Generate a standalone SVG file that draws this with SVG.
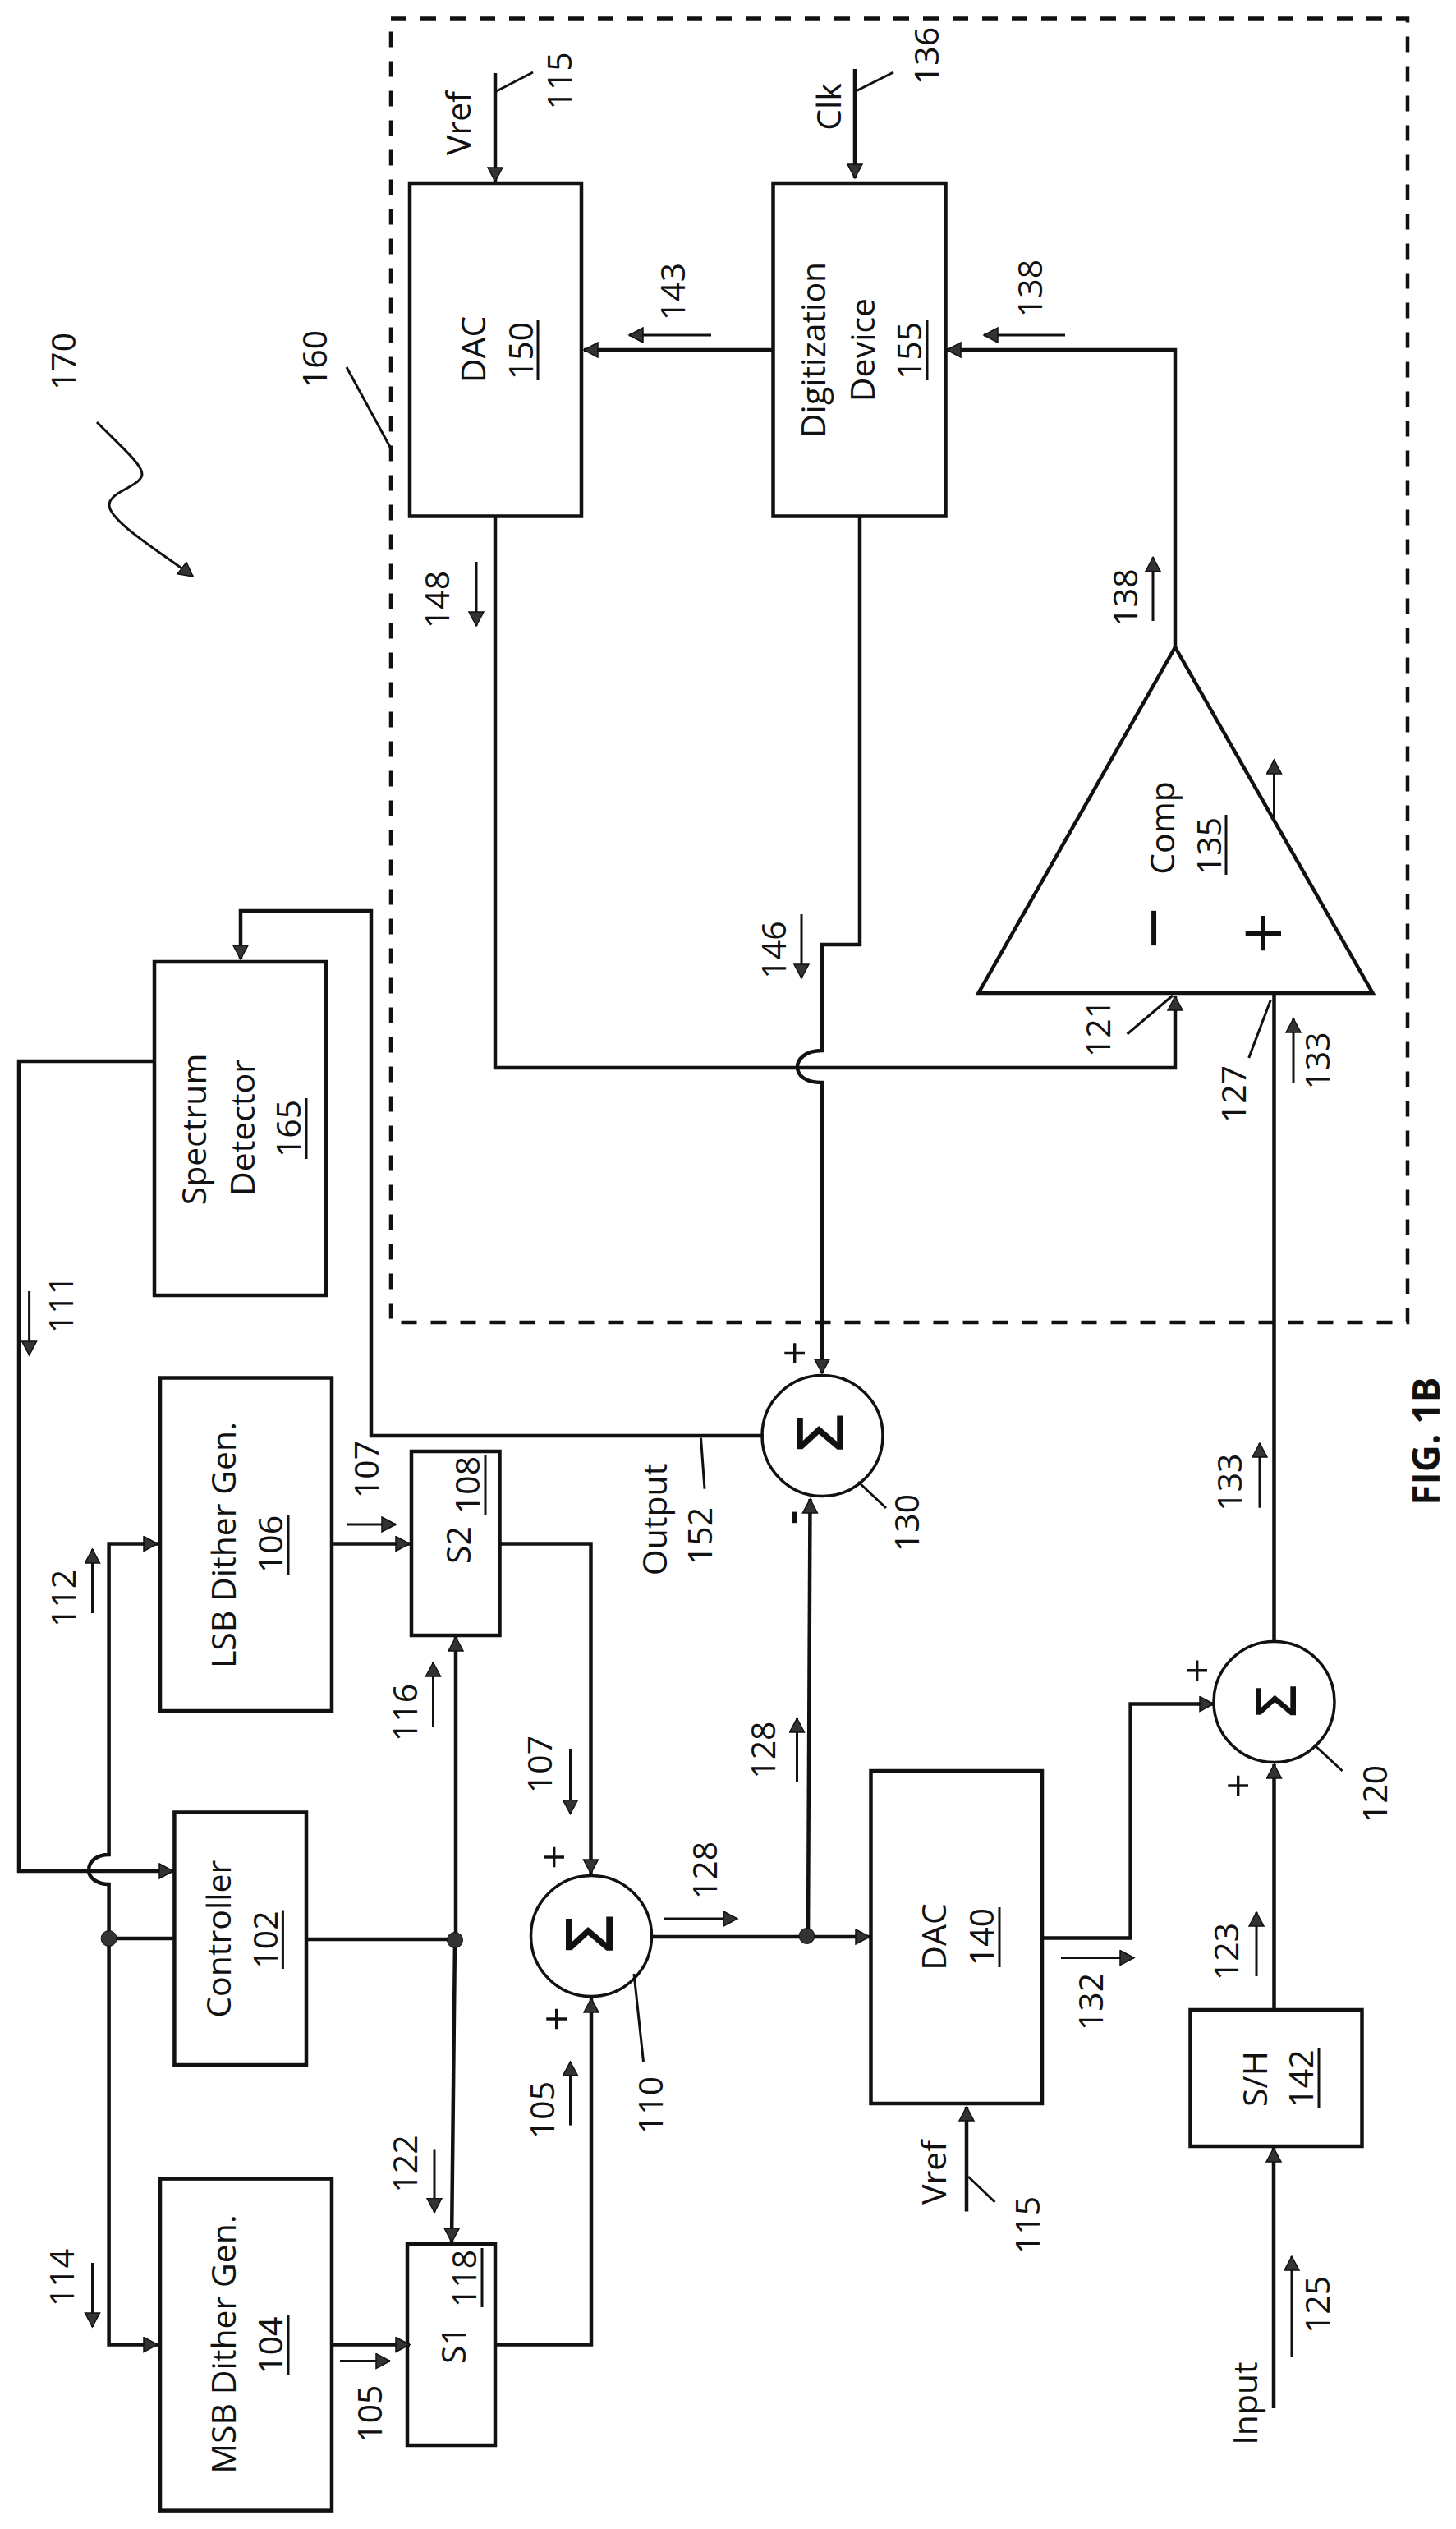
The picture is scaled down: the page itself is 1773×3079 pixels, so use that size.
<svg xmlns="http://www.w3.org/2000/svg" width="1773" height="3079" viewBox="0 0 1773 3079">
<style>
text{font-family:"Open Sans","Liberation Sans",sans-serif;font-size:41px;fill:#111;text-anchor:middle}
.fig{font-weight:700;font-size:46px}
.sym{font-size:52px}
.sig{font-size:80px;font-weight:600}
.box{fill:#fff;stroke:#111;stroke-width:4.5}
.sum{fill:#fff;stroke:#111;stroke-width:3.5}
.c{fill:none;stroke:#111;stroke-width:4.5;marker-end:url(#a)}
.n{fill:none;stroke:#111;stroke-width:4.5}
.s{fill:none;stroke:#111;stroke-width:3;marker-end:url(#a)}
.l{fill:none;stroke:#111;stroke-width:3}
.u{stroke:#111;stroke-width:3}
.d{fill:#333;stroke:#111;stroke-width:1}
.dash{fill:none;stroke:#111;stroke-width:4.5;stroke-dasharray:19 17}
</style>
<defs>
<marker id="a" markerUnits="userSpaceOnUse" markerWidth="20" markerHeight="22" refX="18" refY="10" orient="auto">
<path d="M1,1 L18,10 L1,19 Z" fill="#333" stroke="#111" stroke-width="1.5"/>
</marker>
</defs>
<rect id="boundary-160" class="dash" x="476" y="22.5" width="1238" height="1587.5"/>
<g id="node-dac150"><rect class="box" x="499" y="223" width="209" height="405.500"/><text transform="translate(591 425.500) rotate(-90)">DAC</text><text transform="translate(649 427) rotate(-90)">150</text><line class="u" x1="655" y1="390" x2="655" y2="463"/></g>
<g id="node-digit155"><rect class="box" x="941.500" y="223" width="210" height="405.500"/><text transform="translate(1005 426) rotate(-90)">Digitization</text><text transform="translate(1065 426) rotate(-90)">Device</text><text transform="translate(1122 427) rotate(-90)">155</text><line class="u" x1="1129" y1="390" x2="1129" y2="463"/></g>
<g id="node-comp135"><path class="box" d="M1191.500,1209 L1671.500,1209 L1431,788 Z"/><text transform="translate(1430 1008) rotate(-90)">Comp</text><text transform="translate(1486.500 1030) rotate(-90)">135</text><line class="u" x1="1493" y1="992" x2="1493" y2="1065"/><text class="sym" transform="translate(1437 1130) rotate(-90)" style="font-size:90px">−</text><text class="sym" transform="translate(1570 1136) rotate(-90)" style="font-size:90px">+</text></g>
<g id="node-spectrum165"><rect class="box" x="188" y="1171" width="209" height="406"/><text transform="translate(251 1375) rotate(-90)">Spectrum</text><text transform="translate(310 1373) rotate(-90)">Detector</text><text transform="translate(366 1374) rotate(-90)">165</text><line class="u" x1="373" y1="1337" x2="373" y2="1411"/></g>
<g id="node-lsb106"><rect class="box" x="195" y="1677.500" width="209" height="405.500"/><text transform="translate(287 1881) rotate(-90)">LSB Dither Gen.</text><text transform="translate(344.400 1880) rotate(-90)">106</text><line class="u" x1="351" y1="1844" x2="351" y2="1917"/></g>
<g id="node-s2108"><rect class="box" x="501" y="1767" width="107.500" height="224"/><text transform="translate(573 1881) rotate(-90)">S2</text><text transform="translate(584 1808) rotate(-90)">108</text><line class="u" x1="591" y1="1772" x2="591" y2="1845"/></g>
<g id="node-ctrl102"><rect class="box" x="212.400" y="2206.500" width="160.600" height="307.500"/><text transform="translate(281 2360.700) rotate(-90)">Controller</text><text transform="translate(337.500 2361.500) rotate(-90)">102</text><line class="u" x1="344.400" y1="2325.500" x2="344.400" y2="2397"/></g>
<g id="node-msb104"><rect class="box" x="195" y="2652.600" width="209" height="404"/><text transform="translate(287 2854) rotate(-90)">MSB Dither Gen.</text><text transform="translate(344.400 2855.600) rotate(-90)">104</text><line class="u" x1="351" y1="2818" x2="351" y2="2891"/></g>
<g id="node-s1118"><rect class="box" x="496" y="2732" width="107" height="245"/><text transform="translate(567 2855) rotate(-90)">S1</text><text transform="translate(580 2774) rotate(-90)">118</text><line class="u" x1="587" y1="2737" x2="587" y2="2809"/></g>
<g id="node-sum110"><circle class="sum" cx="720" cy="2357" r="73.500"/><text class="sig" transform="translate(746 2354.500) rotate(-90)">Σ</text><text class="sym" transform="translate(693 2261) rotate(-90)">+</text><text class="sym" transform="translate(696 2458) rotate(-90)">+</text></g>
<g id="node-sum130"><circle class="sum" cx="1001.500" cy="1748" r="73.500"/><text class="sig" transform="translate(1027 1744.500) rotate(-90)">Σ</text><text class="sym" transform="translate(986 1647.400) rotate(-90)">+</text><text class="sym" transform="translate(982 1847.500) rotate(-90)" style="font-weight:700">-</text></g>
<g id="node-sum120"><circle class="sum" cx="1551.500" cy="2072" r="73.500"/><text class="sig" transform="translate(1578 2071) rotate(-90)" style="font-size:68px">Σ</text><text class="sym" transform="translate(1476 2033.700) rotate(-90)">+</text><text class="sym" transform="translate(1526 2174) rotate(-90)">+</text></g>
<g id="node-dac140"><rect class="box" x="1060.500" y="2156" width="208.500" height="405"/><text transform="translate(1152 2358) rotate(-90)">DAC</text><text transform="translate(1210 2358) rotate(-90)">140</text><line class="u" x1="1217" y1="2322" x2="1217" y2="2395"/></g>
<g id="node-sh142"><rect class="box" x="1449.500" y="2447" width="209" height="166"/><text transform="translate(1543 2531) rotate(-90)">S/H</text><text transform="translate(1598.700 2530.500) rotate(-90)">142</text><line class="u" x1="1606" y1="2494" x2="1606" y2="2566"/></g>
<g id="connectors">
<path class="c" d="M603,89 L603,221"/>
<path class="c" d="M1041,84 L1041,217"/>
<path class="c" d="M941.500,426 L711,426"/>
<path class="c" d="M1431,789 L1431,426 L1153,426"/>
<path class="c" d="M603,629 L603,1300 L1431,1300 L1431,1213"/>
<path class="c" d="M1047,629 L1047,1150 L1001,1150 L1001,1279 C980,1279 971,1290 971,1299 C971,1309 980,1318 1001,1318 L1001,1672"/>
<path class="c" d="M930,1748 L452,1748 L452,1109 L293,1109 L293,1168"/>
<path class="c" d="M188,1292 L23,1292 L23,2278 L211,2278"/>
<path class="c" d="M132.600,2360 L132.600,2294 C118,2294 108,2286 108,2277 C108,2266 118,2258 132.600,2258 L132.600,1879.500 L192,1879.500"/>
<path class="c" d="M132.600,2360 L132.600,2854.500 L192,2854.500"/>
<path class="n" d="M132.600,2360 L212,2360"/>
<path class="n" d="M373,2361 L555,2361"/>
<path class="c" d="M555,2361 L555,1993"/>
<path class="c" d="M554,2361 L550,2730"/>
<path class="c" d="M404,1879.500 L499,1879.500"/>
<path class="c" d="M404,2854.500 L499,2854.500"/>
<path class="c" d="M608.500,1879.500 L719.500,1879.500 L719.500,2281"/>
<path class="c" d="M603,2854.500 L720,2854.500 L720,2433"/>
<path class="c" d="M793,2358 L1059,2358"/>
<path class="c" d="M984,2357 L986.500,1825"/>
<path class="c" d="M1269,2359.500 L1376.600,2359.500 L1376.600,2074.500 L1478,2074.500"/>
<path class="c" d="M1551.500,2447 L1551.500,2148"/>
<path class="c" d="M1551,2932 L1551,2615"/>
<path class="c" d="M1177,2692.500 L1177,2565"/>
<path class="n" d="M1551.500,1209 L1551.500,1998"/>
<circle class="d" cx="132.600" cy="2360" r="9.500"/>
<circle class="d" cx="554" cy="2362" r="9.500"/>
<circle class="d" cx="982.500" cy="2357" r="9.500"/>
<path class="s" d="M118,514 C150,546 173,566 173,577 C173,592 133,598 133,615 C133,635 200,675 235,702"/>
<path class="l" d="M422,447 L476,546"/>
<path class="l" d="M604.500,111 L649,88"/>
<path class="l" d="M1042,111 L1088,88"/>
<path class="l" d="M1372.600,1259 L1428,1212"/>
<path class="l" d="M1520.700,1288 L1547.500,1217"/>
<path class="l" d="M853.500,1750.500 L858,1812.700"/>
<path class="l" d="M772,2403 L783.500,2510"/>
<path class="l" d="M1045,1804 L1079,1836"/>
<path class="l" d="M1600,2124 L1634.600,2156"/>
<path class="l" d="M1179,2650 L1211.500,2681"/>
<path class="s" d="M866,408 L766,408"/>
<path class="s" d="M1297,408 L1198,408"/>
<path class="s" d="M580,684 L580,762"/>
<path class="s" d="M1404,756 L1404,678.500"/>
<path class="s" d="M976,1113 L976,1191"/>
<path class="s" d="M1551.500,997 L1551.500,925"/>
<path class="s" d="M1575,1318 L1575,1240"/>
<path class="s" d="M1534,1835.700 L1534,1757"/>
<path class="s" d="M35.600,1572 L35.600,1650"/>
<path class="s" d="M422,1856 L482,1856"/>
<path class="s" d="M112.500,1964 L112.500,1886"/>
<path class="s" d="M694.500,2129 L694.500,2208.500"/>
<path class="s" d="M527.500,2103 L527.500,2024"/>
<path class="s" d="M414,2874.500 L475,2874.500"/>
<path class="s" d="M694.500,2587.600 L694.500,2510"/>
<path class="s" d="M809,2336 L898,2336"/>
<path class="s" d="M970.500,2170 L970.500,2092"/>
<path class="s" d="M1292,2383.500 L1381,2383.500"/>
<path class="s" d="M1530,2406 L1530,2328"/>
<path class="s" d="M1573,2870 L1573,2747"/>
<path class="s" d="M112.500,2755 L112.500,2833"/>
<path class="s" d="M529,2616.500 L529,2693.500"/>
</g>
<g id="labels">
<text transform="translate(92 440) rotate(-90)">170</text>
<text transform="translate(398 437) rotate(-90)">160</text>
<text transform="translate(696 98.500) rotate(-90)">115</text>
<text transform="translate(573 150) rotate(-90)">Vref</text>
<text transform="translate(833.500 355) rotate(-90)">143</text>
<text transform="translate(547 730) rotate(-90)">148</text>
<text transform="translate(1024 130) rotate(-90)">Clk</text>
<text transform="translate(1143 68) rotate(-90)">136</text>
<text transform="translate(1269 351) rotate(-90)">138</text>
<text transform="translate(1385 727.500) rotate(-90)">138</text>
<text transform="translate(1351.500 1252) rotate(-90)">121</text>
<text transform="translate(1517 1332) rotate(-90)">127</text>
<text transform="translate(1619 1291.500) rotate(-90)">133</text>
<text transform="translate(957 1156.500) rotate(-90)">146</text>
<text transform="translate(89 1588) rotate(-90)">111</text>
<text transform="translate(461 1789) rotate(-90)">107</text>
<text transform="translate(92 1946) rotate(-90)">112</text>
<text transform="translate(671.600 2148) rotate(-90)">107</text>
<text transform="translate(508 2085) rotate(-90)">116</text>
<text transform="translate(465 2938.600) rotate(-90)">105</text>
<text transform="translate(674.500 2569) rotate(-90)">105</text>
<text transform="translate(806.500 2563) rotate(-90)">110</text>
<text transform="translate(872.500 2277) rotate(-90)">128</text>
<text transform="translate(1119 1854) rotate(-90)">130</text>
<text transform="translate(944 2130.600) rotate(-90)">128</text>
<text transform="translate(1689 2184) rotate(-90)">120</text>
<text transform="translate(1508 2376) rotate(-90)">123</text>
<text transform="translate(1512 1804.600) rotate(-90)">133</text>
<text transform="translate(1618.600 2806) rotate(-90)">125</text>
<text transform="translate(1531 2926) rotate(-90)">Input</text>
<text transform="translate(1342.500 2437) rotate(-90)">132</text>
<text transform="translate(1152 2645) rotate(-90)">Vref</text>
<text transform="translate(1266 2709) rotate(-90)">115</text>
<text transform="translate(90 2773) rotate(-90)">114</text>
<text transform="translate(508 2634.500) rotate(-90)">122</text>
<text transform="translate(812 1850) rotate(-90)">Output</text>
<text transform="translate(867 1870) rotate(-90)">152</text>
<text class="fig" transform="translate(1753 1754.600) rotate(-90)">FIG. 1B</text>
</g>
</svg>
